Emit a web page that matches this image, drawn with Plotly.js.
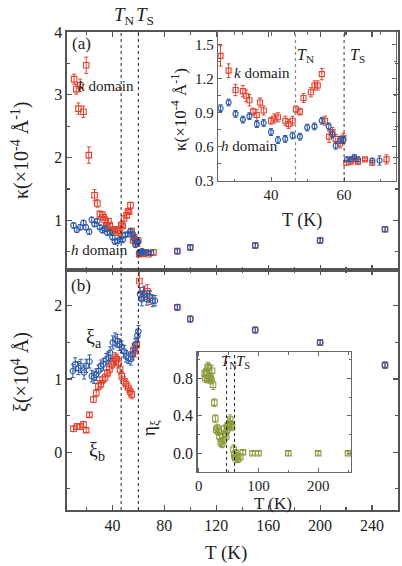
<!DOCTYPE html>
<html>
<head>
<meta charset="utf-8">
<script src="https://cdn.plot.ly/plotly-3.0.1.min.js"></script>
<style>
  html, body { margin: 0; padding: 0; background: #fff; }
  #chart { width: 402px; height: 566px; }
</style>
</head>
<body>
<div id="chart"></div>
<script>
// Transition temperatures (K)
const T_N = 46.7;
const T_S = 60.0;

// (a) inverse correlation length kappa (x10^-4 1/Angstrom), k domain
const kT   = [10.5, 12.1, 13.8, 15.2, 17.7, 19.8, 21.8, 26.2, 28.4, 30.3, 32.3, 33.2, 34.1, 35.1, 36.1, 37.0, 38.0, 40.0, 40.9, 41.9, 43.9, 44.8, 45.9, 46.8, 47.9, 48.9, 50.9, 51.9, 52.8, 53.9, 54.8, 55.9, 56.8, 57.7, 58.9, 59.8, 60.6, 61.8, 62.8, 63.8, 65.7, 67.7, 71.6, 90, 100, 150, 200, 250];
const kVal = [3.25, 3.09, 2.78, 3.15, 2.73, 3.47, 2.04, 1.40, 1.27, 1.10, 1.09, 1.05, 1.01, 0.91, 0.88, 0.99, 0.92, 0.83, 0.85, 0.86, 0.83, 0.80, 0.83, 0.93, 0.91, 1.03, 1.08, 1.14, 1.14, 1.24, 0.83, 0.69, 0.73, 0.67, 0.63, 0.68, 0.46, 0.47, 0.49, 0.47, 0.49, 0.46, 0.49, 0.51, 0.57, 0.60, 0.68, 0.86];
const kErr = [0.08, 0.08, 0.09, 0.10, 0.09, 0.13, 0.13, 0.09, 0.06, 0.05, 0.05, 0.05, 0.05, 0.03, 0.05, 0.04, 0.04, 0.03, 0.04, 0.04, 0.04, 0.04, 0.04, 0.03, 0.03, 0.04, 0.04, 0.04, 0.04, 0.05, 0.04, 0.05, 0.04, 0.04, 0.04, 0.04, 0.02, 0.02, 0.02, 0.02, 0.01, 0.02, 0.04, 0.04, 0.04, 0.04, 0.04, 0.04];

// (a) kappa, h domain
const hT   = [10.0, 12.6, 15.2, 17.7, 19.5, 22.1, 24.1, 26.2, 28.4, 30.3, 32.3, 34.1, 36.1, 38.0, 40.0, 41.9, 43.9, 45.9, 47.9, 49.9, 51.9, 53.9, 55.8, 56.8, 57.7, 58.9, 59.8, 60.8, 61.8, 62.8, 63.8, 67.7, 69.7, 90, 100, 150, 200, 250];
const hVal = [0.92, 0.85, 0.89, 0.96, 0.89, 0.82, 1.01, 0.94, 0.99, 0.89, 0.84, 0.87, 0.80, 0.81, 0.73, 0.66, 0.67, 0.70, 0.69, 0.77, 0.78, 0.83, 0.78, 0.71, 0.61, 0.66, 0.66, 0.49, 0.49, 0.51, 0.49, 0.48, 0.48, 0.51, 0.57, 0.60, 0.68, 0.86];
const hErr = [0.04, 0.04, 0.04, 0.04, 0.04, 0.04, 0.04, 0.03, 0.03, 0.03, 0.03, 0.03, 0.03, 0.03, 0.03, 0.03, 0.03, 0.03, 0.03, 0.03, 0.03, 0.03, 0.03, 0.03, 0.03, 0.03, 0.03, 0.02, 0.02, 0.02, 0.02, 0.02, 0.04, 0.04, 0.04, 0.04, 0.04, 0.04];

// (b) correlation lengths xi (x10^4 Angstrom)
const xiAT = [9.5, 11.3, 13.8, 15.7, 18.2, 19.8, 22.3, 24.1, 25.9, 27.5, 29.2, 31.1, 33.1, 35.2, 36.9, 38.2, 40.3, 42.1, 43.8, 45.4, 47.2, 49.0, 50.5, 52.3, 54.2, 55.7, 57.5, 59.2, 60.0, 61.3, 62.6, 64.4, 66.5, 68.5, 71.1, 72.8, 90, 100, 150, 200, 250];
const xiA  = [1.11, 1.20, 1.15, 1.18, 1.09, 1.18, 1.24, 1.04, 1.02, 1.06, 1.11, 1.18, 1.20, 1.27, 1.29, 1.36, 1.50, 1.54, 1.52, 1.47, 1.44, 1.38, 1.31, 1.29, 1.27, 1.34, 1.47, 1.59, 1.65, 2.16, 2.09, 2.18, 2.09, 2.13, 2.07, 2.07, 1.98, 1.82, 1.67, 1.50, 1.19];
const xiAErr = [0.09, 0.09, 0.09, 0.09, 0.09, 0.09, 0.09, 0.08, 0.08, 0.08, 0.08, 0.08, 0.08, 0.08, 0.08, 0.08, 0.09, 0.09, 0.09, 0.08, 0.08, 0.08, 0.08, 0.08, 0.08, 0.08, 0.08, 0.09, 0.08, 0.09, 0.09, 0.09, 0.08, 0.08, 0.08, 0.07, 0.04, 0.04, 0.04, 0.04, 0.04];

const xiBT = [10.0, 12.6, 15.2, 17.7, 19.8, 22.3, 25.4, 27.5, 29.2, 31.1, 32.6, 34.4, 36.2, 37.7, 39.5, 40.8, 42.1, 43.4, 44.6, 45.9, 47.2, 49.0, 50.5, 52.3, 53.6, 54.9, 56.2, 57.5, 58.8, 60.8, 63.9, 66.9, 69.0, 90, 100, 150, 200, 250];
const xiB  = [0.32, 0.35, 0.35, 0.38, 0.30, 0.51, 0.72, 0.81, 0.90, 0.93, 0.99, 1.02, 1.08, 1.13, 1.20, 1.24, 1.29, 1.27, 1.22, 1.13, 1.04, 0.97, 0.93, 0.88, 0.83, 0.79, 1.40, 1.38, 1.47, 2.34, 2.16, 2.20, 2.11, 1.98, 1.82, 1.67, 1.50, 1.19];
const xiBErr = [0.04, 0.04, 0.04, 0.04, 0.03, 0.03, 0.04, 0.05, 0.05, 0.05, 0.05, 0.05, 0.05, 0.06, 0.06, 0.06, 0.07, 0.07, 0.07, 0.06, 0.06, 0.06, 0.06, 0.06, 0.06, 0.06, 0.08, 0.08, 0.09, 0.16, 0.09, 0.09, 0.09, 0.04, 0.04, 0.04, 0.04, 0.04];

// (b inset) anisotropy eta_xi
const etaT = [10.0, 11.2, 12.5, 14.0, 15.0, 16.7, 18.0, 19.5, 21.0, 22.3, 24.0, 26.2, 27.8, 29.5, 31.4, 33.3, 35.0, 37.0, 39.0, 41.7, 43.0, 44.5, 46.0, 47.3, 48.5, 50.0, 51.5, 52.8, 54.2, 55.7, 58.3, 59.5, 61.2, 62.6, 64.0, 66.0, 69.5, 74.0, 90, 100, 150, 200, 250];
const eta  = [0.85, 0.80, 0.87, 0.79, 0.92, 0.91, 0.80, 0.82, 0.78, 0.88, 0.73, 0.54, 0.37, 0.25, 0.27, 0.23, 0.18, 0.12, 0.10, 0.14, 0.26, 0.21, 0.18, 0.25, 0.29, 0.30, 0.32, 0.36, 0.30, 0.28, 0.04, -0.02, -0.05, 0.00, -0.03, -0.06, -0.04, 0.01, 0.00, 0.00, 0.00, 0.00, 0.00];
const etaErr = [0.04, 0.04, 0.04, 0.04, 0.05, 0.05, 0.04, 0.04, 0.04, 0.06, 0.05, 0.04, 0.04, 0.04, 0.04, 0.04, 0.04, 0.04, 0.04, 0.04, 0.04, 0.04, 0.04, 0.04, 0.04, 0.05, 0.05, 0.05, 0.04, 0.04, 0.05, 0.05, 0.05, 0.04, 0.04, 0.04, 0.03, 0.02, 0.02, 0.02, 0.02, 0.02, 0.02];

// ---- styling ----
const RED = '#e2432f';
const BLUE = '#2f5aa8';
const OLIVE = '#8d9a3c';
const FONT = 'Liberation Serif, Times New Roman, serif';
const AX = '#555';

// page -> paper conversion for the main plot frame
const L = 67, R = 398, TOP = 32, BOT = 510;
const px = x => (x - L) / (R - L);
const py = y => (BOT - y) / (BOT - TOP);

function series(x, y, err, sym, color, xa, ya, size) {
  return {
    x: x, y: y, type: 'scatter', mode: 'markers', xaxis: xa, yaxis: ya,
    marker: { symbol: sym, size: size || 5.5, color: color, line: { color: color, width: 1.1 } },
    error_y: { type: 'data', array: err, visible: true, color: color, thickness: 1, width: 2 },
    cliponaxis: true, hoverinfo: 'skip', showlegend: false
  };
}

const traces = [
  // panel (a)
  series(kT, kVal, kErr, 'square-open', RED, 'x2', 'y2'),
  series(hT, hVal, hErr, 'circle-open', BLUE, 'x2', 'y2'),
  // panel (b)
  series(xiBT, xiB, xiBErr, 'square-open', RED, 'x', 'y'),
  series(xiAT, xiA, xiAErr, 'circle-open', BLUE, 'x', 'y'),
  // inset (a)
  series(kT, kVal, kErr, 'square-open', RED, 'x3', 'y3', 5),
  series(hT, hVal, hErr, 'circle-open', BLUE, 'x3', 'y3', 5),
  // inset (b)
  series(etaT, eta, etaErr, 'square-open', OLIVE, 'x4', 'y4', 5.5)
];

function mainAxis(extra) {
  return Object.assign({
    showline: true, linecolor: AX, linewidth: 1.6, mirror: 'allticks',
    ticks: 'inside', ticklen: 5, tickwidth: 1.2, tickcolor: AX,
    showgrid: false, zeroline: false,
    tickfont: { family: FONT, size: 16, color: '#222' }
  }, extra);
}
function insetAxis(extra) {
  return Object.assign({
    showline: true, linecolor: '#666', linewidth: 1.2, mirror: 'allticks',
    ticks: 'inside', ticklen: 4, tickwidth: 1, tickcolor: '#666',
    showgrid: false, zeroline: false,
    tickfont: { family: FONT, size: 15, color: '#222' }
  }, extra);
}

const splitY = py(270);
const layout = {
  width: 402, height: 566,
  margin: { l: L, r: 402 - R, t: TOP, b: 566 - BOT, pad: 0 },
  paper_bgcolor: '#fff', plot_bgcolor: 'rgba(0,0,0,0)',
  showlegend: false,
  xaxis: mainAxis({ domain: [0, 1], anchor: 'y', range: [5, 260], tick0: 0, dtick: 40,
    minor: { dtick: 20, ticks: 'inside', ticklen: 3, tickcolor: AX } }),
  yaxis: mainAxis({ domain: [0, splitY], anchor: 'x', range: [-0.79, 2.49], tick0: 0, dtick: 1,
    minor: { dtick: 0.5, ticks: 'inside', ticklen: 3, tickcolor: AX } }),
  xaxis2: mainAxis({ domain: [0, 1], anchor: 'y2', range: [5, 260], tick0: 0, dtick: 40, showticklabels: false,
    minor: { dtick: 20, ticks: 'inside', ticklen: 3, tickcolor: AX } }),
  yaxis2: mainAxis({ domain: [splitY, 1], anchor: 'x2', range: [0.21, 4], tick0: 0, dtick: 1,
    minor: { dtick: 0.5, ticks: 'inside', ticklen: 3, tickcolor: AX } }),
  xaxis3: insetAxis({ domain: [px(218), px(396)], anchor: 'y3', range: [25.5, 74.2], tick0: 0, dtick: 20,
    minor: { dtick: 10, ticks: 'inside', ticklen: 2.5, tickcolor: '#666' } }),
  yaxis3: insetAxis({ domain: [py(181), 1], anchor: 'x3', range: [0.3, 1.61], tick0: 0.3, dtick: 0.3, tickformat: '.1f',
    minor: { dtick: 0.15, ticks: 'inside', ticklen: 2.5, tickcolor: '#666' } }),
  xaxis4: insetAxis({ domain: [px(197.5), px(351)], anchor: 'y4', range: [-2, 255], tick0: 0, dtick: 100,
    tickfont: { family: FONT, size: 15, color: '#222' },
    minor: { dtick: 50, ticks: 'inside', ticklen: 2.5, tickcolor: '#666' } }),
  yaxis4: insetAxis({ domain: [py(472), py(352)], anchor: 'x4', range: [-0.2, 1.08], tick0: 0, dtick: 0.4, tickformat: '.1f',
    tickfont: { family: FONT, size: 16, color: '#222' },
    minor: { dtick: 0.2, ticks: 'inside', ticklen: 2.5, tickcolor: '#666' } }),
  shapes: [
    { type: 'line', xref: 'x', yref: 'paper', x0: T_N, x1: T_N, y0: 0, y1: 1, line: { color: '#222', width: 1, dash: 'dot' } },
    { type: 'line', xref: 'x', yref: 'paper', x0: T_S, x1: T_S, y0: 0, y1: 1, line: { color: '#222', width: 1, dash: 'dot' } },
    { type: 'line', xref: 'x3', yref: 'y3 domain', x0: T_N, x1: T_N, y0: 0, y1: 1, line: { color: '#888', width: 1.2, dash: 'dot' } },
    { type: 'line', xref: 'x3', yref: 'y3 domain', x0: T_S, x1: T_S, y0: 0, y1: 1, line: { color: '#333', width: 1, dash: 'dot' } },
    { type: 'line', xref: 'x4', yref: 'y4 domain', x0: T_N, x1: T_N, y0: 0, y1: 1, line: { color: '#222', width: 1, dash: 'dot' } },
    { type: 'line', xref: 'x4', yref: 'y4 domain', x0: T_S, x1: T_S, y0: 0, y1: 1, line: { color: '#222', width: 1, dash: 'dot' } }
  ],
  annotations: []
};

function label(text, x, y, size, opts) {
  layout.annotations.push(Object.assign({
    text: text, xref: 'paper', yref: 'paper', x: px(x), y: py(y),
    xanchor: 'center', yanchor: 'middle', showarrow: false,
    font: { family: FONT, size: size, color: '#222' }
  }, opts || {}));
}

// top transition labels
label('<i>T</i><sub>N</sub>', 124, 16, 19);
label('<i>T</i><sub>S</sub>', 145, 16, 19);
// panel (a)
label('(a)', 81, 44, 17);
label('<i>k</i> domain', 106, 86, 15);
label('<i>h</i> domain', 99, 250, 15);
label('κ(×10<sup>-4</sup> Å<sup>-1</sup>)', 20, 150, 20, { textangle: -90 });
// inset (a)
label('<i>k</i> domain', 262, 73, 15);
label('<i>h</i> domain', 250, 146, 15);
label('<i>T</i><sub>N</sub>', 305, 55, 16);
label('<i>T</i><sub>S</sub>', 357, 55, 16);
label('κ(×10<sup>-4</sup> Å<sup>-1</sup>)', 179, 110, 17, { textangle: -90 });
label('T (K)', 302, 220, 18);
// panel (b)
label('(b)', 81, 285, 17);
label('ξ<sub>a</sub>', 94, 338, 20);
label('ξ<sub>b</sub>', 97, 451, 20);
label('ξ(×10<sup>4</sup> Å)', 20, 372, 20, { textangle: -90 });
// inset (b)
label('<i>T</i><sub>N</sub>', 229, 362, 15);
label('<i>T</i><sub>S</sub>', 243, 362, 15);
label('T (K)', 273, 503, 17);
label('η<sub>ξ</sub>', 150, 428, 19, { textangle: -90 });
// shared x title
label('T (K)', 226, 553, 19);

Plotly.newPlot('chart', traces, layout, { staticPlot: true, displayModeBar: false });
</script>
</body>
</html>
